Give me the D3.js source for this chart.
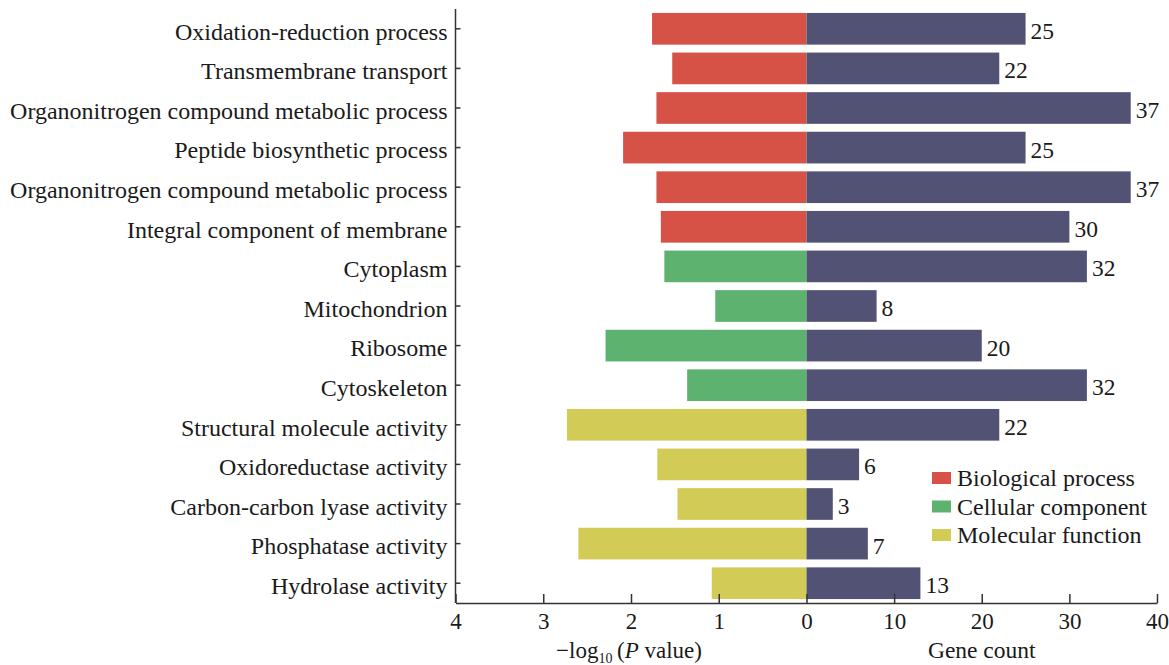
<!DOCTYPE html>
<html>
<head>
<meta charset="utf-8">
<script src="https://cdn.jsdelivr.net/npm/d3@7/dist/d3.min.js"></script>
<style>
  html, body { margin: 0; padding: 0; background: #fff; }
  svg text { font-family: "Liberation Serif", "Times New Roman", serif; fill: #1a1a1a; }
</style>
</head>
<body>
<svg id="chart" width="1169" height="665"></svg>
<script>
// GO enrichment terms, top to bottom
const terms = [
  "Oxidation-reduction process",
  "Transmembrane transport",
  "Organonitrogen compound metabolic process",
  "Peptide biosynthetic process",
  "Organonitrogen compound metabolic process ",
  "Integral component of membrane",
  "Cytoplasm",
  "Mitochondrion",
  "Ribosome",
  "Cytoskeleton",
  "Structural molecule activity",
  "Oxidoreductase activity",
  "Carbon-carbon lyase activity",
  "Phosphatase activity",
  "Hydrolase activity"
];
// GO category of each term
const termCategory = [
  "Biological process", "Biological process", "Biological process", "Biological process",
  "Biological process", "Biological process",
  "Cellular component", "Cellular component", "Cellular component", "Cellular component",
  "Molecular function", "Molecular function", "Molecular function", "Molecular function",
  "Molecular function"
];
// -log10(P value) of each term
const negLogP = [1.76, 1.53, 1.71, 2.09, 1.71, 1.66, 1.62, 1.04, 2.29, 1.36, 2.73, 1.70, 1.47, 2.60, 1.08];
// Number of genes annotated to each term
const geneCount = [25, 22, 37, 25, 37, 30, 32, 8, 20, 32, 22, 6, 3, 7, 13];

const categories = ["Biological process", "Cellular component", "Molecular function"];
const categoryColors = ["#d65146", "#5db270", "#d2cc56"];
const countColor = "#525275";

const pTicks = [4, 3, 2, 1, 0];
const countTicks = [0, 10, 20, 30, 40];

const svg = d3.select("#chart");

const x0 = 455.5, xMid = 806.5, x1 = 1157;
const yTop = 9, yBottom = 603;

const xLeft = d3.scaleLinear().domain([0, 4]).range([xMid, x0]);
const xRight = d3.scaleLinear().domain([0, 40]).range([xMid, x1]);
const y = d3.scaleBand().domain(terms).range([yTop, yBottom])
  .paddingInner(0.2).paddingOuter(0.1);
const color = d3.scaleOrdinal().domain(categories).range(categoryColors);

const rows = terms.map((t, i) => ({ term: t, cat: termCategory[i], p: negLogP[i], n: geneCount[i] }));

// -log10(P) bars, extending left from zero
svg.append("g").selectAll("rect").data(rows).join("rect")
  .attr("x", d => xLeft(d.p))
  .attr("y", d => y(d.term))
  .attr("width", d => xLeft(0) - xLeft(d.p))
  .attr("height", y.bandwidth())
  .attr("fill", d => color(d.cat));

// gene count bars, extending right from zero
svg.append("g").selectAll("rect").data(rows).join("rect")
  .attr("x", xRight(0))
  .attr("y", d => y(d.term))
  .attr("width", d => xRight(d.n) - xRight(0))
  .attr("height", y.bandwidth())
  .attr("fill", countColor);

// count labels at bar ends
svg.append("g").selectAll("text").data(rows).join("text")
  .attr("x", d => xRight(d.n) + 5)
  .attr("y", d => y(d.term) + y.bandwidth() / 2 + 10)
  .attr("font-size", 23.5)
  .text(d => d.n);

// axes
const axisColor = "#333";
const gLeft = svg.append("g").attr("transform", `translate(0,${yBottom})`)
  .call(d3.axisBottom(xLeft).tickValues(pTicks).tickFormat(d3.format("d"))
    .tickSizeInner(-9).tickSizeOuter(0).tickPadding(10));
const gRight = svg.append("g").attr("transform", `translate(0,${yBottom})`)
  .call(d3.axisBottom(xRight).tickValues(countTicks).tickFormat(d3.format("d"))
    .tickSizeInner(-9).tickSizeOuter(0).tickPadding(10));
gRight.selectAll(".tick").filter(d => d === 0).select("text").remove();
gRight.selectAll(".tick").filter(d => d === 0).select("line").remove();

const gY = svg.append("g").attr("transform", `translate(${x0},0)`)
  .call(d3.axisLeft(y).tickSizeInner(-5).tickSizeOuter(0).tickPadding(8));

[gLeft, gRight, gY].forEach(g => {
  g.selectAll("path.domain").attr("stroke", axisColor).attr("stroke-width", 1.5);
  g.selectAll(".tick line").attr("stroke", axisColor).attr("stroke-width", 1.5);
  g.selectAll(".tick text").attr("fill", "#1a1a1a")
    .style("font-family", '"Liberation Serif", "Times New Roman", serif');
});
gLeft.selectAll(".tick text").attr("font-size", 23);
gRight.selectAll(".tick text").attr("font-size", 23);
gY.selectAll(".tick text").attr("font-size", 24).attr("dy", "0.45em").text(d => d.trim());
// extend the y axis line to the top
gY.select("path.domain").attr("d", `M0,${yTop}V${yBottom}`);

// axis titles
const tLeft = svg.append("text")
  .attr("x", (xLeft(4) + xLeft(0)) / 2 - 2)
  .attr("y", 658)
  .attr("text-anchor", "middle")
  .attr("font-size", 23);
tLeft.append("tspan").text("\u2212log");
tLeft.append("tspan").attr("font-size", 14).attr("dy", 5).text("10");
tLeft.append("tspan").attr("dy", -5).text("\u2009(");
tLeft.append("tspan").attr("font-style", "italic").text("P");
tLeft.append("tspan").text(" value)");

svg.append("text")
  .attr("x", (xRight(0) + xRight(40)) / 2)
  .attr("y", 658)
  .attr("text-anchor", "middle")
  .attr("font-size", 23.5)
  .text("Gene count");

// legend
const legend = svg.append("g").selectAll("g").data(categories).join("g")
  .attr("transform", (d, i) => `translate(932,${478 + i * 28.5})`);
legend.append("rect")
  .attr("x", 0).attr("y", -6).attr("width", 19).attr("height", 12)
  .attr("fill", d => color(d));
legend.append("text")
  .attr("x", 25).attr("y", 8)
  .attr("font-size", 24)
  .text(d => d);
</script>
</body>
</html>
